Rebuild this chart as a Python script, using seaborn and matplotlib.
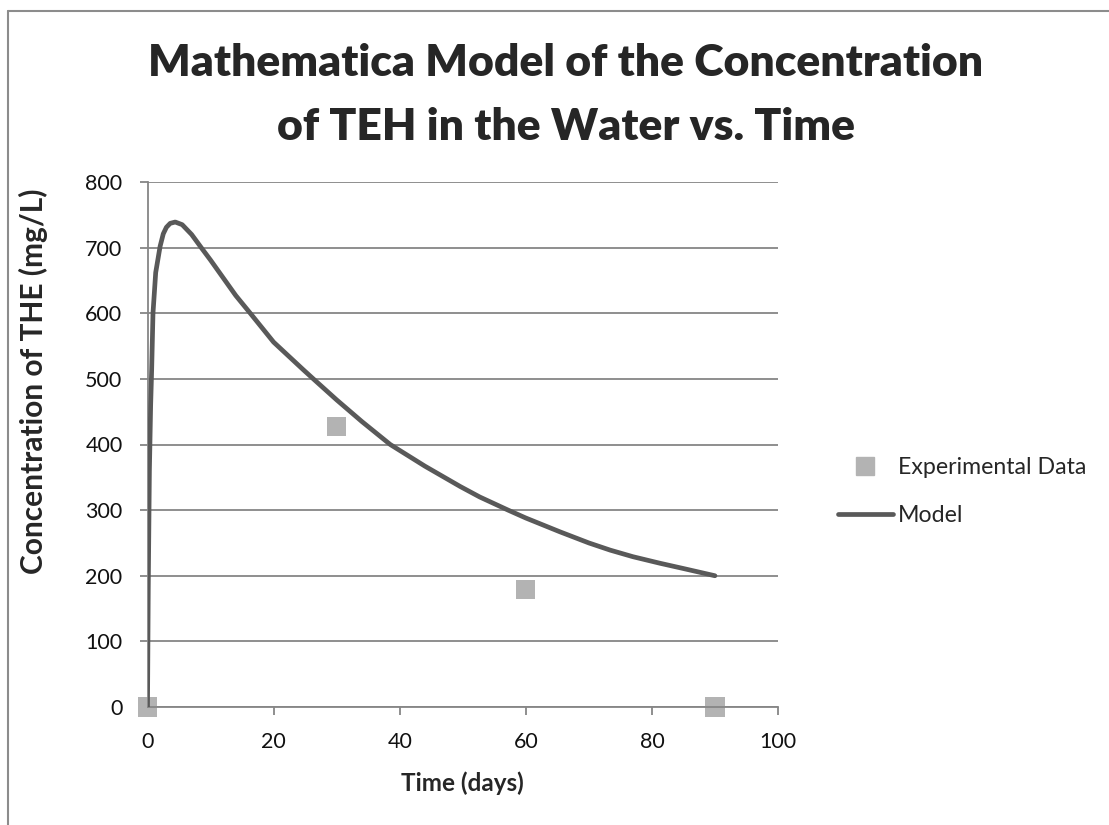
import matplotlib
matplotlib.use("Agg")
import matplotlib.pyplot as plt
import seaborn as sns
import pandas as pd
from matplotlib.lines import Line2D

# Experimental data
exp_days = [0, 30, 60, 90]
exp_conc = [0, 428, 179, 0]

# Model curve
model_days = [0, 0.12, 0.3, 0.5, 0.66, 0.87, 1.3, 2.0, 2.5, 3.0, 3.6, 4.4,
              5.5, 7.0, 8.6, 10.0, 12.0, 14.0, 16.3, 20.0, 24.7, 26.3, 30.0,
              34.0, 38.5, 44.0, 49.6, 52.7, 57.2, 60.0, 65.4, 70.0, 73.4,
              77.0, 81.3, 85.0, 90.0]
model_conc = [0, 180, 360, 460, 514, 600, 662, 702, 721, 731, 737, 739,
              735, 720, 699, 681, 654, 627, 600, 556, 514, 500, 468,
              435, 400, 367, 336, 320, 300, 288, 267, 250, 239,
              229, 219, 211, 200]

title = "Mathematica Model of the Concentration\nof TEH in the Water vs. Time"
x_ticks = [0, 20, 40, 60, 80, 100]
y_ticks = [0, 100, 200, 300, 400, 500, 600, 700, 800]

sns.set_style("white")
plt.rcParams["font.family"] = ["Lato", "DejaVu Sans"]

exp_df = pd.DataFrame({"Time": exp_days, "Conc": exp_conc})
model_df = pd.DataFrame({"Time": model_days, "Conc": model_conc})

fig = plt.figure(figsize=(11.09, 8.25), dpi=100)
ax = fig.add_axes([147.5 / 1109, 1 - 707 / 825, (778 - 147.5) / 1109, (707 - 182) / 825])

grid_col = "#868686"
ax.set_axisbelow(True)
ax.grid(axis="y", color=grid_col, linewidth=1.3)

sns.lineplot(data=model_df, x="Time", y="Conc", ax=ax, color="#595959",
             linewidth=3.4, solid_capstyle="round", solid_joinstyle="round",
             zorder=3, sort=False)
sns.scatterplot(data=exp_df, x="Time", y="Conc", ax=ax, marker="s", s=190,
                color="#b3b3b3", edgecolor="none", zorder=2, clip_on=False)

ax.set_xlim(0, 100)
ax.set_ylim(0, 800)
ax.set_xticks(x_ticks)
ax.set_yticks(y_ticks)
ax.tick_params(axis="both", labelsize=15.5, length=6, width=1.3, color=grid_col,
               direction="out", left=True, bottom=True, labelcolor="#111111")
ax.tick_params(axis="x", pad=12)
ax.tick_params(axis="y", pad=12)
for side in ["top", "right"]:
    ax.spines[side].set_visible(False)
for side in ["left", "bottom"]:
    ax.spines[side].set_color(grid_col)
    ax.spines[side].set_linewidth(1.3)

ax.set_xlabel("Time (days)", fontsize=17.5, fontweight="bold", labelpad=14)
ax.set_ylabel("Concentration of THE (mg/L)", fontsize=21.5, fontweight="bold",
              va="center")
ax.yaxis.set_label_coords((33 - 147.5) / 630.5, (707 - 381) / 525)

fig.text(566 / 1109, 1 - 95 / 825, title, ha="center", va="center", fontsize=32,
         fontweight="heavy", linespacing=1.75)

handles = [
    Line2D([], [], marker="s", linestyle="none", color="#b3b3b3", markersize=13),
    Line2D([], [], color="#595959", linewidth=3.4, solid_capstyle="round"),
]
fig.legend(handles, ["Experimental Data", "Model"], loc="center left",
           bbox_to_anchor=(838 / 1109, 1 - 491.5 / 825), frameon=False,
           fontsize=16.7, handlelength=2.35, handletextpad=0.22, labelspacing=1.15,
           borderpad=0, borderaxespad=0)

# outer chart border
fig.add_artist(Line2D([8 / 1109, 8 / 1109], [0, 1 - 11 / 825], color="#8c8c8c",
                      linewidth=1.5, transform=fig.transFigure))
fig.add_artist(Line2D([8 / 1109, 1], [1 - 11 / 825, 1 - 11 / 825], color="#8c8c8c",
                      linewidth=1.5, transform=fig.transFigure))

fig.savefig("out.png", dpi=100)
